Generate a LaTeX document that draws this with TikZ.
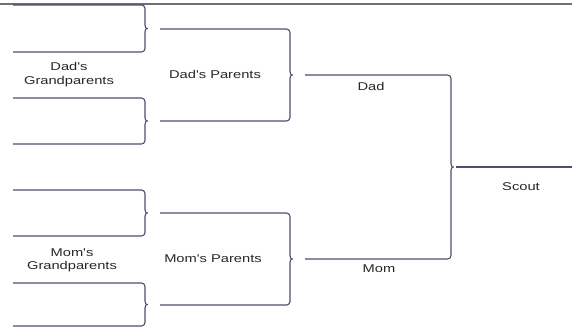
\documentclass[tikz,border=0pt]{standalone}
\usepackage{fontspec}
\newfontfamily\labfont{Liberation Sans}[FakeStretch=1.3]
\definecolor{brccol}{RGB}{78,78,112}
\definecolor{lncol}{RGB}{110,110,115}
\definecolor{txtcol}{RGB}{40,40,40}
\newcommand\famBracket[5]{% name, left x, brace x, top y, bottom y
  \coordinate (#1-tl) at (#2,#4);
  \coordinate (#1-bl) at (#2,#5);
  \coordinate (#1-tip) at ({#3+5},{(#4+#5)/2});
  \draw[brc] (#1-tl) -- (#3,#4) -- (#3,{(#4+#5)/2-7})
    .. controls (#3,{(#4+#5)/2-2}) and ({#3+1},{(#4+#5)/2}) .. (#1-tip)
    .. controls ({#3+1},{(#4+#5)/2}) and (#3,{(#4+#5)/2+2}) .. (#3,{(#4+#5)/2+7})
    -- (#3,#5) -- (#1-bl);
}
\begin{document}
\begin{tikzpicture}[x=1pt,y=-1pt,
  lbl/.style={font=\labfont\fontsize{11.3}{13.5}\selectfont, text=txtcol, inner sep=0pt, align=center},
  brc/.style={draw=brccol, line width=1.1pt, rounded corners=3.5pt},
  ln/.style={draw=lncol, line width=1.1pt}]
\useasboundingbox (0,0) rectangle (572,327);
\fill[white] (0,0) rectangle (572,327);
\coordinate (topL) at (0,4);
\coordinate (topR) at (572,4);
\draw[ln] (topL) -- (topR);
% great-grandparent brackets
\famBracket{ga}{13}{145}{5}{52}
\famBracket{gb}{13}{145}{98}{144}
\famBracket{gc}{13}{145}{190}{236}
\famBracket{gd}{13}{145}{283}{326}
% parents brackets
\famBracket{pd}{160}{290}{29}{121}
\famBracket{pm}{160}{290}{213}{305}
% scout bracket
\famBracket{sc}{305}{451}{75}{259}
\coordinate (scR) at (572,167);
\draw[brc] (sc-tip) -- (scR);
% labels
\node[lbl] (ldgp) at (69,74.5) {Dad's\\Grandparents};
\node[lbl] (lmgp) at (72,260.5) {Mom's\\Grandparents};
\node[lbl, anchor=base] (ldp) at (215,78) {Dad's Parents};
\node[lbl, anchor=base] (lmp) at (213,262) {Mom's Parents};
\node[lbl, anchor=base] (ldad) at (371,90) {Dad};
\node[lbl, anchor=base] (lmom) at (379,272) {Mom};
\node[lbl, anchor=base] (lsc) at (521,190) {Scout};
\end{tikzpicture}
\end{document}
